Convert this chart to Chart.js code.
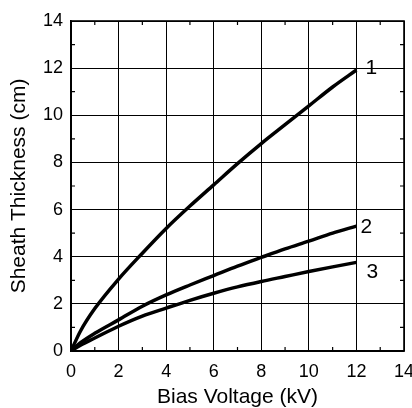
<!DOCTYPE html>
<html>
<head>
<meta charset="utf-8">
<script src="https://cdn.jsdelivr.net/npm/chart.js@4/dist/chart.umd.min.js"></script>
<style>
  html, body { margin: 0; padding: 0; background: #fff; }
  #wrap { width: 412px; height: 408px; }
</style>
</head>
<body>
<div id="wrap"><canvas id="grafico"></canvas></div>
<script>
// bias voltage (kV)
const voltaje = [0, 0.4, 1, 2, 3, 4, 5, 6, 7, 8, 9, 10, 11, 12];
// sheath thickness (cm) per curve
const curva1 = [0, 0.85, 1.8, 3.05, 4.15, 5.2, 6.15, 7.05, 7.95, 8.8, 9.6, 10.4, 11.2, 11.92];
const curva2 = [0, 0.35, 0.75, 1.32, 1.9, 2.38, 2.8, 3.2, 3.6, 3.97, 4.33, 4.66, 5.0, 5.3];
const curva3 = [0, 0.25, 0.55, 1.05, 1.48, 1.82, 2.15, 2.45, 2.72, 2.95, 3.16, 3.37, 3.57, 3.76];
const etiquetas = ['1', '2', '3'];
const ticksX = [0, 2, 4, 6, 8, 10, 12, 14];
const ticksY = [0, 2, 4, 6, 8, 10, 12, 14];

const fuente = "'Liberation Sans', Arial, Helvetica, sans-serif";

function serie(valores) {
    return {
        data: voltaje.map((x, i) => ({ x: x, y: valores[i] })),
        borderColor: '#000',
        borderWidth: 3.5,
        pointRadius: 0,
        cubicInterpolationMode: 'monotone',
        fill: false
    };
}

// small inner ticks at odd values + numbers at end of each curve
const extras = {
    id: 'extras',
    afterDatasetsDraw(chart) {
        const ctx = chart.ctx;
        const a = chart.chartArea;
        const sx = chart.scales.x, sy = chart.scales.y;
        ctx.save();
        ctx.strokeStyle = '#000';
        ctx.lineWidth = 1.2;
        ctx.beginPath();
        for (let v = 1; v < 14; v += 2) {
            const px = sx.getPixelForValue(v);
            const py = sy.getPixelForValue(v);
            ctx.moveTo(px, a.bottom); ctx.lineTo(px, a.bottom - 4);
            ctx.moveTo(px, a.top); ctx.lineTo(px, a.top + 4);
            ctx.moveTo(a.left, py); ctx.lineTo(a.left + 4, py);
            ctx.moveTo(a.right, py); ctx.lineTo(a.right - 4, py);
        }
        ctx.stroke();
        ctx.lineWidth = 1.6;
        ctx.strokeRect(a.left, a.top, a.right - a.left, a.bottom - a.top);

        const desp = [[15, -2], [10, 1], [16, 10]];
        ctx.fillStyle = '#000';
        ctx.font = '21px ' + fuente;
        ctx.textAlign = 'center';
        ctx.textBaseline = 'middle';
        chart.data.datasets.forEach((ds, i) => {
            const ult = ds.data[ds.data.length - 1];
            const x = sx.getPixelForValue(ult.x) + desp[i][0];
            const y = sy.getPixelForValue(ult.y) + desp[i][1];
            ctx.fillText(etiquetas[i], x, y);
        });
        ctx.restore();
    }
};

const ctx = document.getElementById('grafico').getContext('2d');
const grafico = new Chart(ctx, {
    type: 'line',
    data: {
        datasets: [serie(curva1), serie(curva2), serie(curva3)]
    },
    options: {
        responsive: true,
        maintainAspectRatio: false,
        animation: false,
        layout: { padding: { top: 21, right: 8, left: 0, bottom: 0 } },
        plugins: {
            legend: { display: false },
            tooltip: { enabled: false }
        },
        scales: {
            x: {
                type: 'linear',
                min: 0,
                max: 14,
                afterBuildTicks: (s) => { s.ticks = ticksX.map(v => ({ value: v })); },
                afterFit: (s) => { s.height = 57; s.paddingRight = 0; s.paddingLeft = 0; },
                grid: { color: '#000', lineWidth: 1, drawTicks: false },
                border: { color: '#000', width: 1.6 },
                ticks: {
                    color: '#000',
                    padding: 10,
                    maxRotation: 0,
                    font: { family: fuente, size: 18 }
                },
                title: {
                    display: true,
                    text: 'Bias Voltage (kV)',
                    color: '#000',
                    padding: { top: 0, bottom: 0 },
                    font: { family: fuente, size: 21, lineHeight: 1 }
                }
            },
            y: {
                type: 'linear',
                min: 0,
                max: 14,
                afterBuildTicks: (s) => { s.ticks = ticksY.map(v => ({ value: v })); },
                afterFit: (s) => { s.width = 71; },
                grid: { color: '#000', lineWidth: 1, drawTicks: false },
                border: { color: '#000', width: 1.6 },
                ticks: {
                    color: '#000',
                    padding: 8,
                    font: { family: fuente, size: 18 }
                },
                title: {
                    display: true,
                    text: 'Sheath Thickness (cm)',
                    color: '#000',
                    padding: { top: 9, bottom: 0 },
                    font: { family: fuente, size: 21, lineHeight: 1 }
                }
            }
        }
    },
    plugins: [extras]
});
</script>
</body>
</html>
